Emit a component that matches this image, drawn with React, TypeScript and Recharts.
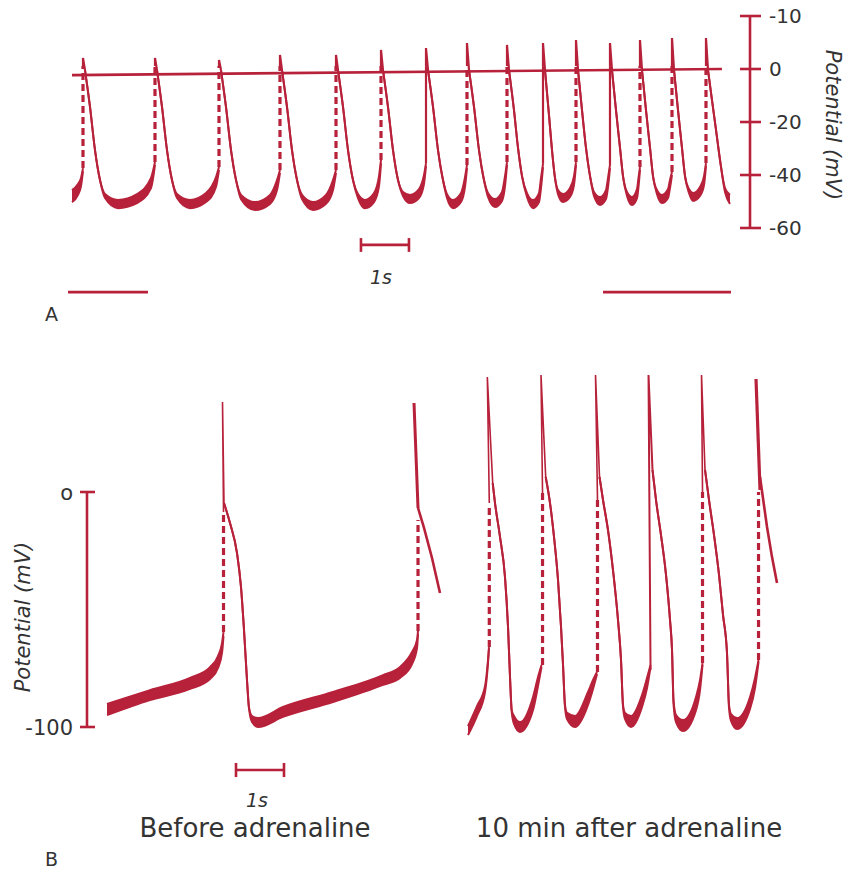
import React from 'react';
import { ComposedChart, Area, Line, XAxis, YAxis, ReferenceLine } from 'recharts';

const RED = '#b7213a';
const INK = '#333333';
const FONT = '"DejaVu Sans", Verdana, sans-serif';

type Row = number[];

// ---------- Panel A : time (s), potential (mV) ----------
const aTicks = [20, 0, -20, -40, -60];
const aTickLabels = ['-10', '0', '-20', '-40', '-60'];

// one entry per action potential: upstroke time, peak, threshold (foot of the upstroke)
const aSpikeT = [0.229, 1.729, 3.0625, 4.333, 5.5, 6.4375, 7.375, 8.229, 9.0625, 9.8125, 10.5, 11.208, 11.833, 12.5, 13.208];
const aSpikePeak = [4.2, 4.2, 3.4, 5.3, 5.3, 7.2, 7.9, 9.8, 9.1, 9.8, 10.9, 9.8, 10.9, 11.7, 11.7];
const aSpikeThreshold = [-37.4, -35.1, -37.0, -38.1, -38.1, -34.3, -35.5, -36.2, -35.1, -35.8, -35.1, -36.2, -37.0, -38.9, -35.5];
const aSolidUpstrokes = [6, 9, 11];
const aUpstrokeTop = 1.1;

// trace before the first spike: [t, upper, lower]
const aStart: Row[] = [[0, -45.7, -50.2], [0.125, -43.4, -47.5], [0.1875, -41.1, -44.2], [0.229, -37.4, -38.5]];

// repolarisation + diastolic depolarisation after each spike: [t, upper, lower?]
const aCycles: Row[][] = [
  [[0.271, -0.4], [0.375, -14.3], [0.479, -30.6], [0.583, -41.9], [0.688, -47.2, -48.7], [0.958, -49.4, -52.5], [1.354, -47.2, -50.6], [1.646, -41.1, -44.9], [1.729, -35.1, -36.2]],
  [[1.771, -0.4], [1.875, -14.3], [1.979, -30.6], [2.083, -41.9], [2.188, -47.2, -48.7], [2.458, -49.4, -52.5], [2.792, -46.8, -50.2], [3.0, -40.8, -44.5], [3.0625, -37.0, -38.1]],
  [[3.104, -0.4], [3.208, -14.3], [3.3125, -30.6], [3.417, -41.9], [3.521, -47.5, -49.1], [3.8125, -50.2, -53.2], [4.125, -47.5, -50.9], [4.271, -41.9, -45.7], [4.333, -38.1, -39.2]],
  [[4.375, -0.4], [4.479, -14.3], [4.583, -30.6], [4.6875, -41.9], [4.792, -47.5, -49.1], [5.021, -50.2, -53.2], [5.292, -47.5, -50.9], [5.4375, -41.9, -45.7], [5.5, -38.1, -39.2]],
  [[5.542, -0.4], [5.646, -14.3], [5.75, -30.6], [5.854, -41.9], [5.958, -47.2, -48.7], [6.104, -49.4, -52.5], [6.292, -46.8, -50.2], [6.396, -40.4, -44.2], [6.4375, -34.3, -35.5]],
  [[6.479, -0.4], [6.583, -14.3], [6.6875, -30.6], [6.792, -41.9], [6.896, -46.4, -47.9], [7.042, -47.5, -50.6], [7.229, -45.3, -48.7], [7.333, -40.0, -43.4], [7.375, -35.5, -36.6]],
  [[7.417, -0.4], [7.521, -14.3], [7.625, -30.6], [7.729, -41.9], [7.8125, -47.2, -48.7], [7.9375, -49.4, -52.5], [8.104, -46.8, -50.2], [8.1875, -40.8, -44.5], [8.229, -36.2, -37.4]],
  [[8.271, -0.4], [8.375, -14.3], [8.479, -30.6], [8.583, -41.9], [8.667, -46.8, -48.3], [8.8125, -49.1, -52.1], [8.958, -46.4, -49.8], [9.021, -40.4, -44.2], [9.0625, -35.1, -36.2]],
  [[9.104, -0.4], [9.208, -15.5], [9.292, -29.8], [9.375, -40.4], [9.479, -46.8, -48.3], [9.604, -49.4, -52.5], [9.729, -46.8, -50.2], [9.771, -41.1, -44.9], [9.8125, -35.8, -37.0]],
  [[9.854, -0.4], [9.9375, -17.4], [10.0, -30.6], [10.0625, -41.1], [10.125, -45.7, -47.2], [10.229, -47.2, -50.2], [10.375, -44.9, -48.3], [10.458, -40.4, -43.8], [10.5, -35.1, -36.2]],
  [[10.542, -0.4], [10.625, -15.5], [10.708, -29.8], [10.792, -40.4], [10.875, -46.4, -47.9], [11.0, -48.3, -51.3], [11.125, -45.7, -49.1], [11.167, -41.1, -44.5], [11.208, -36.2, -37.4]],
  [[11.25, -0.4], [11.333, -15.5], [11.417, -29.8], [11.479, -40.4], [11.5625, -46.4, -47.9], [11.667, -48.3, -51.3], [11.771, -45.3, -48.7], [11.802, -41.1, -44.5], [11.833, -37.0, -38.1]],
  [[11.875, -0.4], [11.958, -15.5], [12.042, -29.8], [12.104, -40.4], [12.1875, -45.7, -47.2], [12.292, -47.5, -50.6], [12.417, -45.3, -48.7], [12.458, -41.9, -44.9], [12.5, -38.9, -40.0]],
  [[12.542, -0.4], [12.625, -15.5], [12.708, -29.8], [12.771, -40.4], [12.854, -45.3, -46.8], [12.9375, -46.8, -49.8], [13.083, -44.5, -47.9], [13.167, -40.4, -43.8], [13.208, -35.5, -36.6]],
  [[13.25, -0.4], [13.333, -11.7], [13.417, -23.0], [13.5, -34.3], [13.604, -44.9, -46.4], [13.708, -47.5, -50.9]],
];

const aZeroLine: Row[] = [[0, -2.3], [13.54, 0]];
const aScaleBar: Row[] = [[6.02, -66.4], [7.02, -66.4]];
const aMarkLeft: Row[] = [[-0.083, -84.2], [1.583, -84.2]];
const aMarkRight: Row[] = [[11.0625, -84.2], [13.729, -84.2]];

// ---------- Panel B : time (s), potential (mV) ----------
const bTicks = [0, -100];
const bTickLabels = ['o', '-100'];

// before adrenaline
const bLeftBands: Row[][] = [
  [[0.417, -90.2, -94.9], [1.3125, -84.3, -88.5], [2.146, -79.1, -83.8], [2.5625, -74.5, -79.6], [2.729, -69.8, -74.9], [2.8125, -64.3, -68.5], [2.844, -59.6, -61.3]],
  [[2.854, -4.7], [2.979, -13.2], [3.125, -26.0], [3.208, -40.4], [3.271, -58.7], [3.333, -80.0], [3.375, -91.9], [3.4375, -95.3, -97.9], [3.5625, -96.2, -100.0], [4.083, -91.5, -95.7], [5.125, -85.1, -89.4], [6.167, -77.9, -82.1], [6.521, -74.5, -79.1], [6.771, -68.1, -73.2], [6.875, -63.0, -66.4], [6.896, -59.1, -60.4]],
];
const bLeftNeedles: Row[][] = [[[2.844, -8.5], [2.823, 38.3], [2.854, -4.7]]];
const bLeftUpstrokes: Row[] = [[2.844, -59.6, -8.5], [6.896, -59.1, -11.9]];
const bLeftSpike: Row[] = [[6.8125, 37.9], [6.896, -6.8]];
const bLeftTail: Row[] = [[6.896, -6.8], [7.021, -15.3], [7.1875, -28.1], [7.354, -43.0]];

// 10 min after adrenaline
const bRightBands: Row[][] = [
  [[7.9375, -99.6, -103.4], [8.125, -91.1, -95.3], [8.292, -82.6, -85.1], [8.354, -71.5, -72.8], [8.375, -66.0, -66.4]],
  [[8.452, 3.8], [8.5, -4.7], [8.604, -19.1], [8.708, -36.2], [8.771, -57.4], [8.8125, -78.7], [8.848, -92.8, -93.6], [8.896, -95.3, -98.7], [9.021, -97.9, -102.1], [9.292, -87.2, -92.8], [9.396, -78.7, -82.6], [9.469, -73.6, -74.5]],
  [[9.556, 6.4], [9.646, -4.7], [9.729, -19.1], [9.8125, -37.4], [9.875, -57.4], [9.917, -73.6], [9.958, -90.6, -91.5], [10.0, -94.0, -96.6], [10.167, -95.3, -100.0], [10.4375, -85.1, -90.6], [10.542, -80.0, -83.8], [10.625, -76.6, -77.4]],
  [[10.677, 6.4], [10.75, -3.4], [10.854, -16.2], [10.958, -33.2], [11.0625, -54.5], [11.125, -71.5], [11.167, -90.6, -91.5], [11.208, -94.0, -96.6], [11.333, -95.3, -100.0], [11.5625, -86.4, -91.5], [11.667, -79.1, -83.4], [11.74, -73.6, -74.5]],
  [[11.781, 9.4], [11.854, -3.4], [11.958, -18.3], [12.0625, -35.3], [12.146, -54.5], [12.1875, -67.2], [12.219, -88.5, -90.2], [12.271, -94.9, -97.9], [12.417, -97.0, -101.7], [12.6875, -87.2, -92.8], [12.771, -80.0, -84.3], [12.823, -72.8, -73.6]],
  [[12.875, 9.4], [12.958, -3.4], [13.0625, -18.3], [13.167, -35.3], [13.25, -52.3], [13.333, -68.5], [13.375, -90.6, -91.9], [13.417, -94.5, -97.4], [13.542, -96.2, -100.9], [13.8125, -87.2, -92.3], [13.917, -79.1, -83.4], [13.99, -71.5, -72.3]],
];
const bRightNeedles: Row[][] = [
  [[8.381, -4.7], [8.34, 48.9], [8.452, 3.8]],
  [[9.49, -0.4], [9.458, 49.8], [9.556, 6.4]],
  [[10.635, -3.4], [10.594, 49.8], [10.677, 6.4]],
  [[12.823, 0.0], [12.802, 49.8], [12.875, 9.4]],
];
const bRightSolidUpstroke: Row[] = [[11.74, -75.7], [11.698, 49.8], [11.781, 9.4]];
const bRightUpstrokes: Row[] = [[8.381, -66.0, -5.5], [9.49, -73.6, -0.4], [10.635, -76.6, -3.4], [12.823, -72.8, 0.0], [13.99, -71.5, 0.0]];
const bRightSpike: Row[] = [[13.9375, 48.1], [14.021, 0.9]];
const bRightTail: Row[] = [[14.021, 6.4], [14.167, -14.9], [14.271, -27.7], [14.375, -38.7]];

const bScaleBar: Row[] = [[3.104, -118.3], [4.104, -118.3]];

// ---------- helpers ----------
const band = (rows: Row[]) => rows.map(([t, hi, lo]) => ({ t, r: [lo === undefined ? hi : lo, hi] }));
const pts = (rows: Row[]) => rows.map(([t, v]) => ({ t, v }));

function bandArea(rows: Row[], key: string) {
  return (
    <Area
      key={key}
      data={band(rows)}
      dataKey="r"
      type="monotone"
      stroke={RED}
      strokeWidth={2}
      fill={RED}
      fillOpacity={1}
      dot={false}
      activeDot={false}
      isAnimationActive={false}
    />
  );
}

function traceLine(rows: Row[], key: string, width = 2, dash?: string) {
  return (
    <Line
      key={key}
      data={pts(rows)}
      dataKey="v"
      type="linear"
      stroke={RED}
      strokeWidth={width}
      strokeDasharray={dash}
      strokeLinejoin="miter"
      dot={false}
      activeDot={false}
      isAnimationActive={false}
    />
  );
}

function upstroke(t: number, from: number, to: number, key: string, solid = false) {
  return traceLine([[t, from], [t, to]], key, solid ? 2.2 : 3.2, solid ? undefined : '7 4');
}

function scaleCaps(bar: Row[], half: number, key: string) {
  return bar.map(([t, v], i) => (
    <ReferenceLine
      key={key + i}
      segment={[{ x: t, y: v - half }, { x: t, y: v + half }]}
      stroke={RED}
      strokeWidth={2.6}
      ifOverflow="visible"
    />
  ));
}

const renderTickA = (p: any) => {
  const label = aTickLabels[aTicks.indexOf(p.payload.value)];
  return (
    <g>
      <line x1={p.x - 10} x2={p.x + 11} y1={p.y} y2={p.y} stroke={RED} strokeWidth={2.6} />
      <text x={p.x + 19} y={p.y} dy="0.36em" fill={INK} fontSize={20} fontFamily={FONT}>{label}</text>
    </g>
  );
};

const renderTickB = (p: any) => {
  const label = bTickLabels[bTicks.indexOf(p.payload.value)];
  return (
    <g>
      <line x1={p.x - 7} x2={p.x + 8} y1={p.y} y2={p.y} stroke={RED} strokeWidth={2.6} />
      <text x={p.x - 14} y={p.y} dy="0.36em" textAnchor="end" fill={INK} fontSize={21} fontFamily={FONT}>{label}</text>
    </g>
  );
};

export default function App() {
  return (
    <div style={{ position: 'absolute', left: 0, top: 0, width: 847, height: 869, background: '#fff', overflow: 'hidden' }}>
      <div style={{ position: 'absolute', left: 0, top: 0 }}>
        <ComposedChart width={847} height={340} margin={{ top: 0, right: 0, bottom: 0, left: 0 }}>
          <XAxis type="number" dataKey="t" domain={[-1.5, 14.125]} hide allowDataOverflow />
          <YAxis
            type="number"
            orientation="right"
            width={97}
            domain={[-102.26, 26.04]}
            allowDataOverflow
            ticks={aTicks}
            interval={0}
            axisLine={false}
            tickLine={false}
            tickSize={0}
            tickMargin={0}
            tick={renderTickA}
          />
          <ReferenceLine segment={[{ x: 14.125, y: -60 }, { x: 14.125, y: 20 }]} stroke={RED} strokeWidth={2.6} ifOverflow="visible" />
          {bandArea(aStart, 'a-start')}
          {aCycles.map((c, i) => bandArea(c, 'a-cyc' + i))}
          {aSpikeT.map((t, i) =>
            upstroke(t, aSpikeThreshold[i], aUpstrokeTop, 'a-up' + i, aSolidUpstrokes.includes(i))
          )}
          {aSpikeT.map((t, i) =>
            traceLine([[t, aUpstrokeTop], [t, aSpikePeak[i]], aCycles[i][0]], 'a-hook' + i, 2.2)
          )}
          {traceLine(aZeroLine, 'a-zero', 2.7)}
          {traceLine(aScaleBar, 'a-scale', 2.7)}
          {scaleCaps(aScaleBar, 2.6, 'a-cap')}
          {traceLine(aMarkLeft, 'a-mark-l', 2.8)}
          {traceLine(aMarkRight, 'a-mark-r', 2.8)}
        </ComposedChart>
      </div>

      <div style={{ position: 'absolute', left: 0, top: 340 }}>
        <ComposedChart width={847} height={460} margin={{ top: 0, right: 0, bottom: 0, left: 0 }}>
          <XAxis type="number" dataKey="t" domain={[0, 15.833]} hide allowDataOverflow />
          <YAxis
            type="number"
            orientation="left"
            width={87}
            domain={[-131.06, 64.68]}
            allowDataOverflow
            ticks={bTicks}
            interval={0}
            axisLine={false}
            tickLine={false}
            tickSize={0}
            tickMargin={0}
            tick={renderTickB}
          />
          <ReferenceLine segment={[{ x: 0, y: 0 }, { x: 0, y: -100 }]} stroke={RED} strokeWidth={2.6} ifOverflow="visible" />
          {bLeftBands.map((c, i) => bandArea(c, 'bl-band' + i))}
          {bLeftNeedles.map((n, i) => traceLine(n, 'bl-needle' + i, 1.6))}
          {bLeftUpstrokes.map(([t, a, b], i) => upstroke(t, a, b, 'bl-up' + i))}
          {traceLine(bLeftSpike, 'bl-spike', 3)}
          {traceLine(bLeftTail, 'bl-tail', 2.6)}

          {bRightBands.map((c, i) => bandArea(c, 'br-band' + i))}
          {bRightNeedles.map((n, i) => traceLine(n, 'br-needle' + i, 1.6))}
          {traceLine(bRightSolidUpstroke, 'br-solid', 2)}
          {bRightUpstrokes.map(([t, a, b], i) => upstroke(t, a, b, 'br-up' + i))}
          {traceLine(bRightSpike, 'br-spike', 3.2)}
          {traceLine(bRightTail, 'br-tail', 2.6)}

          {traceLine(bScaleBar, 'b-scale', 2.7)}
          {scaleCaps(bScaleBar, 3.0, 'b-cap')}
        </ComposedChart>
      </div>

      <svg width={847} height={869} style={{ position: 'absolute', left: 0, top: 0, pointerEvents: 'none' }} fontFamily={FONT}>
        <text x={833} y={125} dy="0.35em" textAnchor="middle" fontSize={21} fontStyle="italic" fill={INK} transform="rotate(90 833 125)">
          Potential (mV)
        </text>
        <text x={381} y={284} textAnchor="middle" fontSize={19} fontStyle="italic" fill={INK}>1s</text>
        <text x={45} y={321} fontSize={19} fill={INK}>A</text>

        <text x={23} y={617} dy="0.35em" textAnchor="middle" fontSize={21} fontStyle="italic" fill={INK} transform="rotate(-90 23 617)">
          Potential (mV)
        </text>
        <text x={257} y={807} textAnchor="middle" fontSize={19} fontStyle="italic" fill={INK}>1s</text>
        <text x={255} y={837} textAnchor="middle" fontSize={26} fill={INK}>Before adrenaline</text>
        <text x={629} y={837} textAnchor="middle" fontSize={26} fill={INK}>10 min after adrenaline</text>
        <text x={45} y={866} fontSize={19} fill={INK}>B</text>
      </svg>
    </div>
  );
}
